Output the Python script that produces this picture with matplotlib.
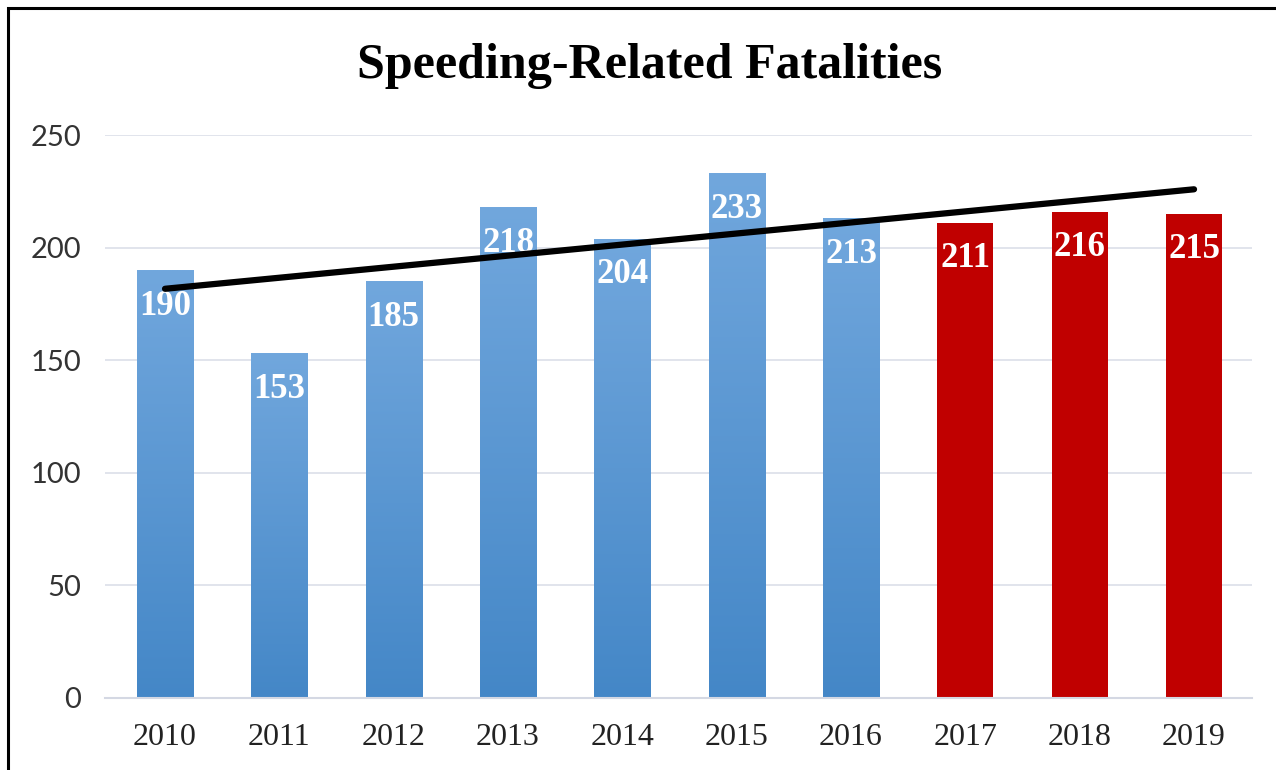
import numpy as np
import matplotlib
matplotlib.use("Agg")
import matplotlib.pyplot as plt
from matplotlib.patches import Rectangle
from matplotlib.colors import LinearSegmentedColormap

# Data
years = ["2010", "2011", "2012", "2013", "2014", "2015", "2016", "2017", "2018", "2019"]
fatalities = [190, 153, 185, 218, 204, 233, 213, 211, 216, 215]
highlight_from = "2017"  # years from here on are drawn in red
y_ticks = [0, 50, 100, 150, 200, 250]
title = "Speeding-Related Fatalities"

W, H, DPI = 1276, 770, 100
fig = plt.figure(figsize=(W / DPI, H / DPI), dpi=DPI)
fig.patch.set_facecolor("white")

ax = fig.add_axes([105 / W, 1 - 698 / H, (1252 - 105) / W, (698 - 135) / H])
XLIM = (-0.525, len(years) - 0.493)
ax.set_xlim(*XLIM)
ax.set_ylim(0, 250)

x = np.arange(len(years))
split = years.index(highlight_from)
colors = ["none"] * split + ["#c00000"] * (len(years) - split)
bars = ax.bar(x, fatalities, width=0.49, color=colors, zorder=2, linewidth=0)

# Vertical gradient fill for the blue bars
blue_cmap = LinearSegmentedColormap.from_list("bluegrad", ["#4487c7", "#71a7dd"])
grad = np.linspace(0, 1, 256).reshape(-1, 1)
for i in range(split):
    b = bars[i]
    im = ax.imshow(grad, cmap=blue_cmap, origin="lower", aspect="auto",
                   extent=[b.get_x(), b.get_x() + b.get_width(), 0, b.get_height()],
                   zorder=2)
    im.set_clip_path(b)
ax.set_xlim(*XLIM)
ax.set_ylim(0, 250)

# Value labels inside the top of each bar
for xi, v in zip(x, fatalities):
    ax.annotate(str(v), (xi, v), xytext=(0, -36), textcoords="offset pixels",
                ha="center", va="center", color="white", fontsize=25,
                fontweight="bold", family="Liberation Serif", zorder=4)

# Linear trend line
slope, intercept = np.polyfit(x, fatalities, 1)
ax.plot([x[0], x[-1]], [intercept + slope * x[0], intercept + slope * x[-1]],
        color="black", linewidth=4.5, solid_capstyle="round", zorder=5)

# Grid and axes styling
ax.set_yticks(y_ticks)
ax.yaxis.grid(True, color="#dcdfe9", linewidth=1.2, zorder=0)
ax.set_axisbelow(True)
for s in ["top", "right", "left"]:
    ax.spines[s].set_visible(False)
ax.spines["bottom"].set_color("#d4d8e3")
ax.spines["bottom"].set_linewidth(1.5)
ax.tick_params(axis="both", length=0)
ax.tick_params(axis="y", pad=17)
ax.tick_params(axis="x", pad=18)
ax.set_xticks(x)
ax.set_xticklabels(years, fontsize=23, family="Liberation Serif", color="#222222")
for lbl in ax.get_yticklabels():
    lbl.set_fontfamily("Lato")
    lbl.set_fontsize(21)
    lbl.set_color("#333333")

fig.text(650 / W, 1 - 66 / H, title, ha="center", va="center", fontsize=36,
         fontweight="bold", family="Liberation Serif", color="black")

# Outer frame
fig.patches.append(Rectangle((8 / W, -0.1), 1.2, 1 - 8 / H + 0.1, transform=fig.transFigure,
                             fill=False, edgecolor="black", linewidth=2.2, zorder=10))

fig.savefig("out.png", dpi=DPI, facecolor="white")
